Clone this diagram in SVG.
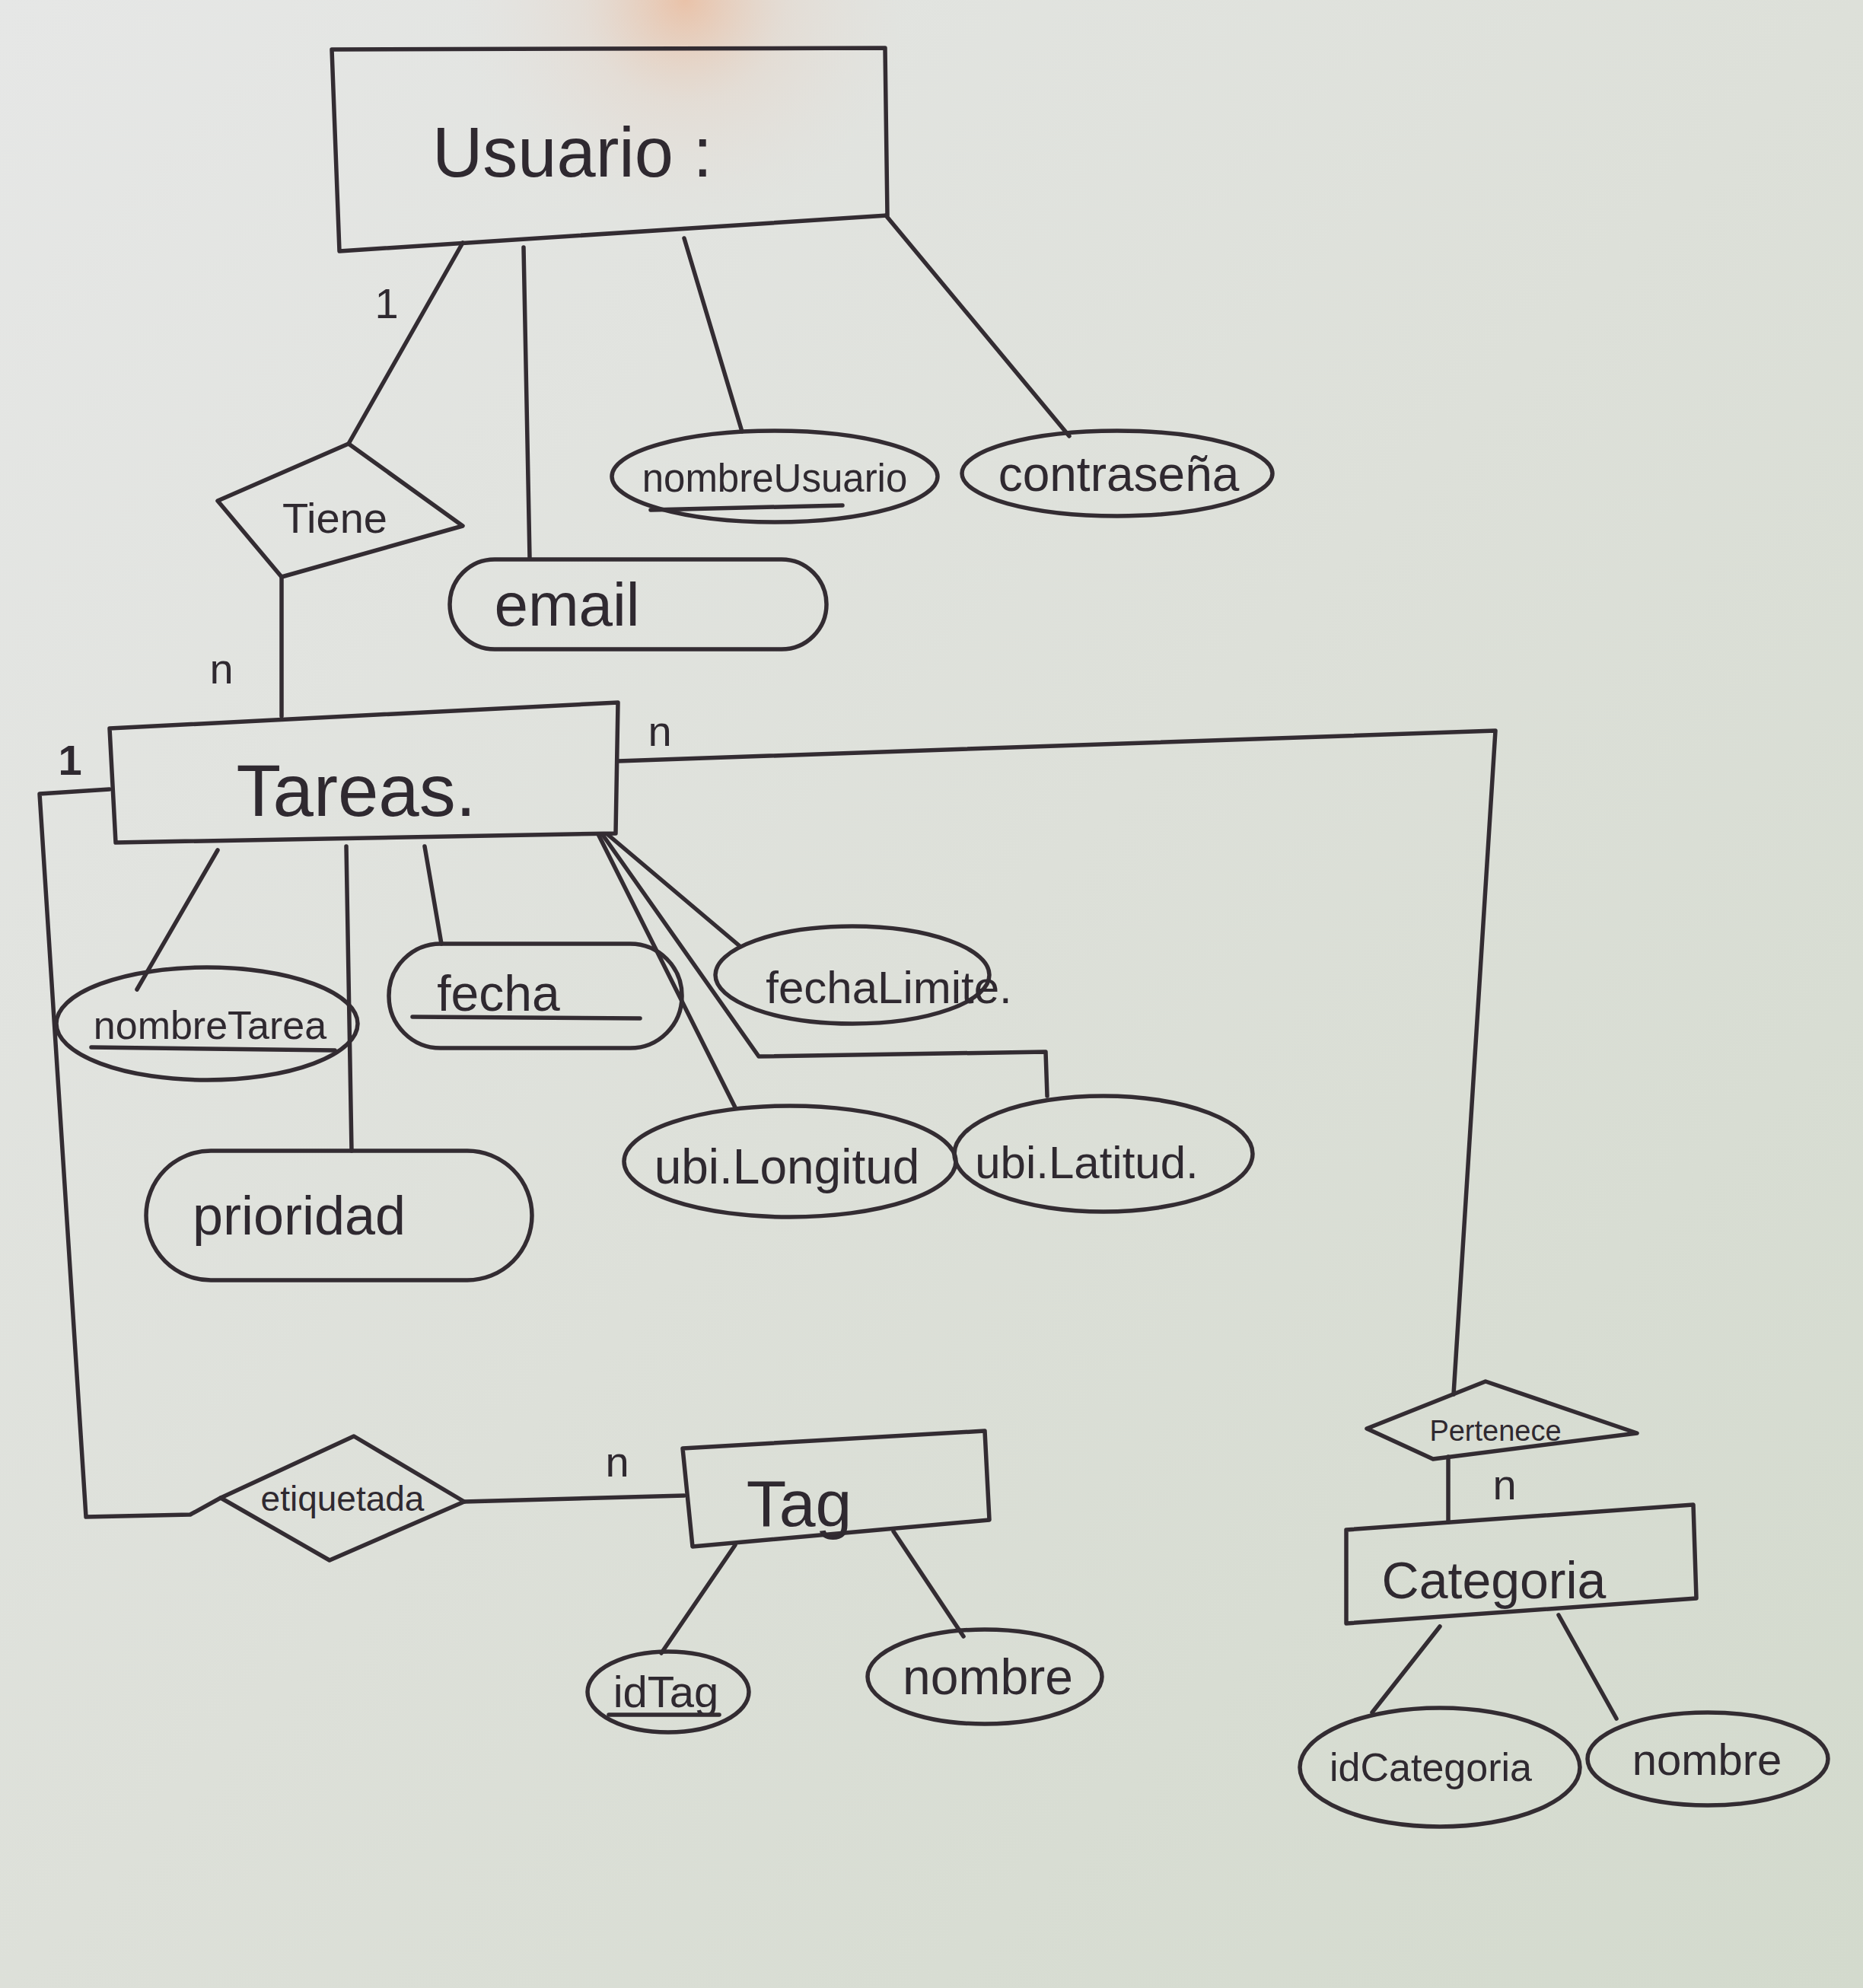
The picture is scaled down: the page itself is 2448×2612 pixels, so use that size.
<svg xmlns="http://www.w3.org/2000/svg" width="2448" height="2612" viewBox="0 0 2448 2612">
<defs>
<linearGradient id="paper" x1="0" y1="0" x2="1" y2="1">
<stop offset="0" stop-color="#e6e7e6"/>
<stop offset="0.5" stop-color="#dde0d9"/>
<stop offset="1" stop-color="#d3dacd"/>
</linearGradient>
<radialGradient id="glow" cx="900" cy="0" r="300" gradientUnits="userSpaceOnUse">
<stop offset="0" stop-color="#f0a070" stop-opacity="0.5"/>
<stop offset="0.45" stop-color="#e9c0a8" stop-opacity="0.2"/>
<stop offset="1" stop-color="#e6d6d0" stop-opacity="0"/>
</radialGradient>
<style>
.ink{fill:none;stroke:#332c32;stroke-width:5.5;stroke-linejoin:round;stroke-linecap:round}
.t{font-family:"Liberation Sans",Arial,sans-serif;fill:#2f2930;text-anchor:middle}
.card{font-family:"Liberation Sans",Arial,sans-serif;fill:#2f2930;text-anchor:middle;font-size:56px}
</style>
</defs>
<rect x="0" y="0" width="2448" height="2612" fill="url(#paper)"/>
<rect x="0" y="0" width="2448" height="400" fill="url(#glow)"/>

<g id="connectors" class="ink">
<line x1="608" y1="319" x2="458" y2="583"/>
<line x1="688" y1="325" x2="696" y2="733"/>
<line x1="899" y1="313" x2="975" y2="567"/>
<line x1="1164" y1="283" x2="1405" y2="573"/>
<line x1="370" y1="758" x2="370" y2="941"/>
<polyline points="812,1000 1965,960 1910,1832"/>
<polyline points="144,1037 52,1043 113,1993 250,1990 290,1968"/>
<line x1="610" y1="1973" x2="899" y2="1965"/>
<line x1="286" y1="1117" x2="180" y2="1300"/>
<line x1="455" y1="1112" x2="462" y2="1512"/>
<line x1="558" y1="1112" x2="580" y2="1240"/>
<line x1="798" y1="1096" x2="972" y2="1243"/>
<line x1="786" y1="1096" x2="966" y2="1455"/>
<polyline points="792,1097 997,1388 1374,1382 1376,1440"/>
<line x1="966" y1="2030" x2="869" y2="2172"/>
<line x1="1174" y1="2012" x2="1266" y2="2150"/>
<line x1="1903" y1="1914" x2="1903" y2="2000"/>
<line x1="1892" y1="2137" x2="1803" y2="2250"/>
<line x1="2048" y1="2122" x2="2124" y2="2258"/>
</g>

<g id="cardinalities">
<text class="card" x="508" y="418">1</text>
<text class="card" x="291" y="898">n</text>
<text class="card" x="92" y="1018" font-weight="bold">1</text>
<text class="card" x="867" y="980">n</text>
<text class="card" x="811" y="1940">n</text>
<text class="card" x="1977" y="1970">n</text>
</g>

<g id="usuario">
<polygon class="ink" points="436,65 1163,63 1166,283 446,330"/>
<text class="t" x="752" y="232" font-size="92">Usuario :</text>
</g>

<g id="tiene">
<polygon class="ink" points="458,583 608,691 370,758 286,658"/>
<text class="t" x="440" y="700" font-size="56">Tiene</text>
</g>

<g id="email">
<rect class="ink" x="591" y="735" width="495" height="118" rx="59"/>
<text class="t" x="745" y="822" font-size="80">email</text>
</g>

<g id="nombreUsuario">
<ellipse class="ink" cx="1018" cy="626" rx="214" ry="60"/>
<text class="t" x="1018" y="646" font-size="51">nombreUsuario</text>
<line class="ink" x1="855" y1="670" x2="1107" y2="664" stroke-width="8"/>
</g>

<g id="contrasena">
<ellipse class="ink" cx="1468" cy="622" rx="204" ry="56"/>
<text class="t" x="1470" y="645" font-size="64">contraseña</text>
</g>

<g id="tareas">
<polygon class="ink" points="144,957 812,923 809,1095 152,1107"/>
<text class="t" x="468" y="1072" font-size="96">Tareas.</text>
</g>

<g id="nombreTarea">
<ellipse class="ink" cx="272" cy="1345" rx="198" ry="74"/>
<text class="t" x="276" y="1365" font-size="52">nombreTarea</text>
<line class="ink" x1="120" y1="1376" x2="440" y2="1380"/>
</g>

<g id="fecha">
<rect class="ink" x="511" y="1240" width="385" height="137" rx="68"/>
<text class="t" x="655" y="1328" font-size="66">fecha</text>
<line class="ink" x1="542" y1="1336" x2="841" y2="1338"/>
</g>

<g id="prioridad">
<rect class="ink" x="192" y="1512" width="507" height="170" rx="85"/>
<text class="t" x="393" y="1622" font-size="72">prioridad</text>
</g>

<g id="fechaLimite">
<ellipse class="ink" cx="1120" cy="1281" rx="180" ry="64"/>
<text class="t" x="1168" y="1318" font-size="60">fechaLimite.</text>
</g>

<g id="ubiLongitud">
<ellipse class="ink" cx="1038" cy="1526" rx="218" ry="73"/>
<text class="t" x="1034" y="1555" font-size="64">ubi.Longitud</text>
</g>

<g id="ubiLatitud">
<ellipse class="ink" cx="1450" cy="1516" rx="196" ry="76"/>
<text class="t" x="1428" y="1548" font-size="60">ubi.Latitud.</text>
</g>

<g id="etiquetada">
<polygon class="ink" points="290,1968 465,1887 610,1973 433,2050"/>
<text class="t" x="450" y="1985" font-size="46">etiquetada</text>
</g>

<g id="tag">
<polygon class="ink" points="897,1903 1294,1880 1300,1997 910,2032"/>
<text class="t" x="1050" y="2005" font-size="86">Tag</text>
</g>

<g id="idTag">
<ellipse class="ink" cx="878" cy="2223" rx="106" ry="53"/>
<text class="t" x="875" y="2243" font-size="58">idTag</text>
<line class="ink" x1="800" y1="2253" x2="945" y2="2253"/>
</g>

<g id="nombreTag">
<ellipse class="ink" cx="1294" cy="2203" rx="154" ry="62"/>
<text class="t" x="1298" y="2226" font-size="66">nombre</text>
</g>

<g id="pertenece">
<polygon class="ink" points="1796,1877 1952,1815 2151,1883 1883,1917"/>
<text class="t" x="1965" y="1893" font-size="38">Pertenece</text>
</g>

<g id="categoria">
<polygon class="ink" points="1769,2010 2225,1977 2229,2100 1769,2133"/>
<text class="t" x="1963" y="2100" font-size="68">Categoria</text>
</g>

<g id="idCategoria">
<ellipse class="ink" cx="1892" cy="2322" rx="184" ry="78"/>
<text class="t" x="1880" y="2340" font-size="52">idCategoria</text>
</g>

<g id="nombreCategoria">
<ellipse class="ink" cx="2244" cy="2311" rx="158" ry="61"/>
<text class="t" x="2243" y="2332" font-size="58">nombre</text>
</g>
</svg>
